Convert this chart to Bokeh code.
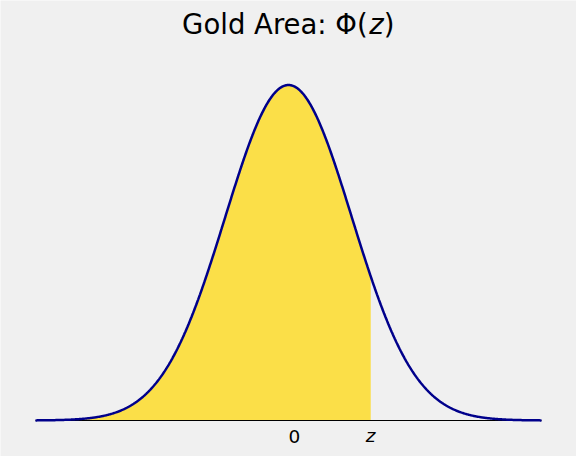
import numpy as np
from bokeh.plotting import figure
from bokeh.models import Label
from bokeh.embed import file_html
from bokeh.resources import INLINE

# parameters of the chart
mu = 0.0
sigma = 1.0
z_value = 1.3
x_min, x_max = -4.0, 4.0
y_top = 0.44
tick_values = [0.0, z_value]
tick_labels = ["0", "z"]
tick_styles = ["normal", "italic"]
title_parts = ["Gold Area: \u03a6(", "z", ")"]

x = np.linspace(x_min, x_max, 801)
pdf = np.exp(-0.5 * ((x - mu) / sigma) ** 2) / (sigma * np.sqrt(2 * np.pi))
mask = x <= z_value

# layout in pixels; the plotting area is inset by these margins
W, H = 576, 456
ml, mr, mt, mb = 35, 35, 50, 36
xs = (W - ml - mr) / (x_max - x_min)
ys = (H - mt - mb) / y_top
xr = (x_min - ml / xs, x_max + mr / xs)
yr = (0 - mb / ys, y_top + mt / ys)

BG = "#f0f0f0"
p = figure(width=W, height=H, x_range=xr, y_range=yr,
           x_axis_type=None, y_axis_type=None, toolbar_location=None,
           output_backend="svg", min_border=0)
p.background_fill_color = BG
p.border_fill_color = BG
p.outline_line_color = None
p.grid.visible = False

p.varea(x=x[mask], y1=np.zeros(mask.sum()), y2=pdf[mask], fill_color="gold", fill_alpha=0.7)
p.line(x=[x_min, x_max], y=[0, 0], line_color="black", line_width=1.2)
p.line(x=x, y=pdf, line_color="#00008b", line_width=2.5)

tick_xoff = [6, 0]
tick_yoff = [-15.5, -15.0]
for v, t, s, xo, yo in zip(tick_values, tick_labels, tick_styles, tick_xoff, tick_yoff):
    p.add_layout(Label(x=v, y=0, text=t, text_align="center", text_baseline="alphabetic",
                       y_offset=yo, x_offset=xo,
                       text_font="DejaVu Sans", text_font_size="18.5px",
                       text_font_style=s, text_color="black"))

fs = 27.5
w1 = 187.2
wz = 14.4
left = 181.6 - (ml + (0 - x_min) * xs)
for txt, off, style in [(title_parts[0], left, "normal"),
                        (title_parts[1], left + w1, "italic"),
                        (title_parts[2], left + w1 + wz, "normal")]:
    p.add_layout(Label(x=0, y=y_top, x_offset=off, y_offset=27, text=txt,
                       text_align="left", text_baseline="alphabetic", text_font="DejaVu Sans",
                       text_font_size=f"{fs}px", text_font_style=style, text_color="black"))

html = file_html(p, INLINE)
html = html.replace("<body>", '<body style="background-color:#f0f0f0;">', 1)
open("out.html", "w").write(html)
